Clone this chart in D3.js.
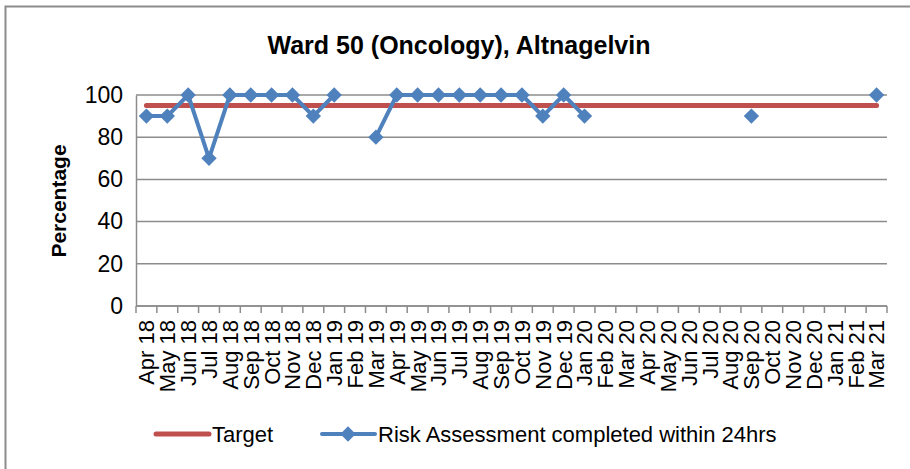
<!DOCTYPE html>
<html>
<head>
<meta charset="utf-8">
<script src="https://cdn.jsdelivr.net/npm/d3@7"></script>
<style>
  body { margin: 0; background: #fff; }
  text { font-family: "Liberation Sans", Arial, sans-serif; fill: #000; }
</style>
</head>
<body>
<div id="chart"></div>
<script>
var months = ["Apr 18", "May 18", "Jun 18", "Jul 18", "Aug 18", "Sep 18", "Oct 18", "Nov 18", "Dec 18",
    "Jan 19", "Feb 19", "Mar 19", "Apr 19", "May 19", "Jun 19", "Jul 19", "Aug 19", "Sep 19", "Oct 19",
    "Nov 19", "Dec 19", "Jan 20", "Feb 20", "Mar 20", "Apr 20", "May 20", "Jun 20", "Jul 20", "Aug 20",
    "Sep 20", "Oct 20", "Nov 20", "Dec 20", "Jan 21", "Feb 21", "Mar 21"];

var riskValues = [90, 90, 100, 70, 100, 100, 100, 100, 90,
    100, null, 80, 100, 100, 100, 100, 100, 100, 100,
    90, 100, 90, null, null, null, null, null, null, null,
    90, null, null, null, null, null, 100];

var targetValues = months.map(function () { return 95; });

var yTicks = [0, 20, 40, 60, 80, 100];

var width = 910, height = 469;
var margin = { left: 136, right: 23, top: 95, bottom: 163 };

var svg = d3.select("#chart")
    .append("svg")
    .attr("width", width)
    .attr("height", height);

// outer frame (only top/left edges are visible in the crop)
svg.append("rect")
    .attr("x", 5.5)
    .attr("y", 6.5)
    .attr("width", 1000)
    .attr("height", 1000)
    .attr("fill", "none")
    .attr("stroke", "#8c8c8c")
    .attr("stroke-width", 2);

var x = d3.scaleBand()
    .domain(months)
    .range([margin.left, width - margin.right]);

var y = d3.scaleLinear()
    .domain([0, 100])
    .range([height - margin.bottom, margin.top]);

var cx = function (i) { return x(months[i]) + x.bandwidth() / 2; };

// gridlines
svg.append("g")
    .selectAll("line")
    .data(yTicks)
    .enter()
    .append("line")
    .attr("x1", margin.left)
    .attr("x2", width - margin.right)
    .attr("y1", function (d) { return y(d); })
    .attr("y2", function (d) { return y(d); })
    .attr("stroke", "#8c8c8c")
    .attr("stroke-width", 1.5);

// y axis
var yAxis = svg.append("g")
    .attr("transform", "translate(" + margin.left + ",0)")
    .call(d3.axisLeft(y).tickValues(yTicks).tickSize(0).tickPadding(13));
yAxis.select(".domain").attr("stroke", "#8c8c8c").attr("stroke-width", 1.5);
yAxis.selectAll("text")
    .style("font-family", "'Liberation Sans', Arial, sans-serif")
    .attr("font-size", 23)
    .attr("fill", "#000");

// x axis: ticks sit between the months
var xAxisG = svg.append("g")
    .attr("transform", "translate(0," + y(0) + ")");
xAxisG.append("line")
    .attr("x1", margin.left)
    .attr("x2", width - margin.right)
    .attr("stroke", "#8c8c8c")
    .attr("stroke-width", 1.5);
xAxisG.selectAll(".tick")
    .data(months.concat([null]))
    .enter()
    .append("line")
    .attr("x1", function (d, i) { return margin.left + i * x.step(); })
    .attr("x2", function (d, i) { return margin.left + i * x.step(); })
    .attr("y1", 0)
    .attr("y2", 7)
    .attr("stroke", "#8c8c8c")
    .attr("stroke-width", 1.5);
xAxisG.selectAll(".lbl")
    .data(months)
    .enter()
    .append("text")
    .attr("transform", function (d) {
        return "translate(" + (x(d) + x.bandwidth() / 2) + ",14) rotate(-90)";
    })
    .attr("dy", "0.36em")
    .attr("text-anchor", "end")
    .attr("font-size", 22)
    .text(function (d) { return d; });

// title and axis title
svg.append("text")
    .attr("x", 459)
    .attr("y", 54)
    .attr("text-anchor", "middle")
    .attr("font-size", 25)
    .attr("font-weight", "bold")
    .text("Ward 50 (Oncology), Altnagelvin");

svg.append("text")
    .attr("transform", "translate(58,201) rotate(-90)")
    .attr("dy", "0.36em")
    .attr("text-anchor", "middle")
    .attr("font-size", 21)
    .attr("font-weight", "bold")
    .text("Percentage");

// target line
var line = d3.line()
    .defined(function (d) { return d != null; })
    .x(function (d, i) { return cx(i); })
    .y(function (d) { return y(d); });

svg.append("path")
    .datum(targetValues)
    .attr("d", line)
    .attr("fill", "none")
    .attr("stroke", "#C0504D")
    .attr("stroke-width", 5)
    .attr("stroke-linecap", "round");

// risk assessment series
svg.append("path")
    .datum(riskValues)
    .attr("d", line)
    .attr("fill", "none")
    .attr("stroke", "#4F81BD")
    .attr("stroke-width", 4)
    .attr("stroke-linejoin", "round");

var diamond = d3.symbol().type(d3.symbolDiamond2).size(150);

var points = riskValues
    .map(function (v, i) { return { v: v, i: i }; })
    .filter(function (p) { return p.v != null; });

svg.append("g")
    .selectAll("path")
    .data(points)
    .enter()
    .append("path")
    .attr("d", diamond)
    .attr("transform", function (p) {
        return "translate(" + cx(p.i) + "," + y(p.v) + ")";
    })
    .attr("fill", "#4F81BD");

// legend
var legend = svg.append("g").attr("transform", "translate(0,434)");
legend.append("line")
    .attr("x1", 156).attr("x2", 209)
    .attr("stroke", "#C0504D").attr("stroke-width", 5).attr("stroke-linecap", "round");
legend.append("text")
    .attr("x", 212).attr("dy", "0.36em")
    .attr("font-size", 22)
    .text("Target");
legend.append("line")
    .attr("x1", 322).attr("x2", 375)
    .attr("stroke", "#4F81BD").attr("stroke-width", 4).attr("stroke-linecap", "round");
legend.append("path")
    .attr("d", diamond)
    .attr("transform", "translate(348,0)")
    .attr("fill", "#4F81BD");
legend.append("text")
    .attr("x", 378).attr("dy", "0.36em")
    .attr("font-size", 22)
    .text("Risk Assessment completed within 24hrs");
</script>
</body>
</html>
